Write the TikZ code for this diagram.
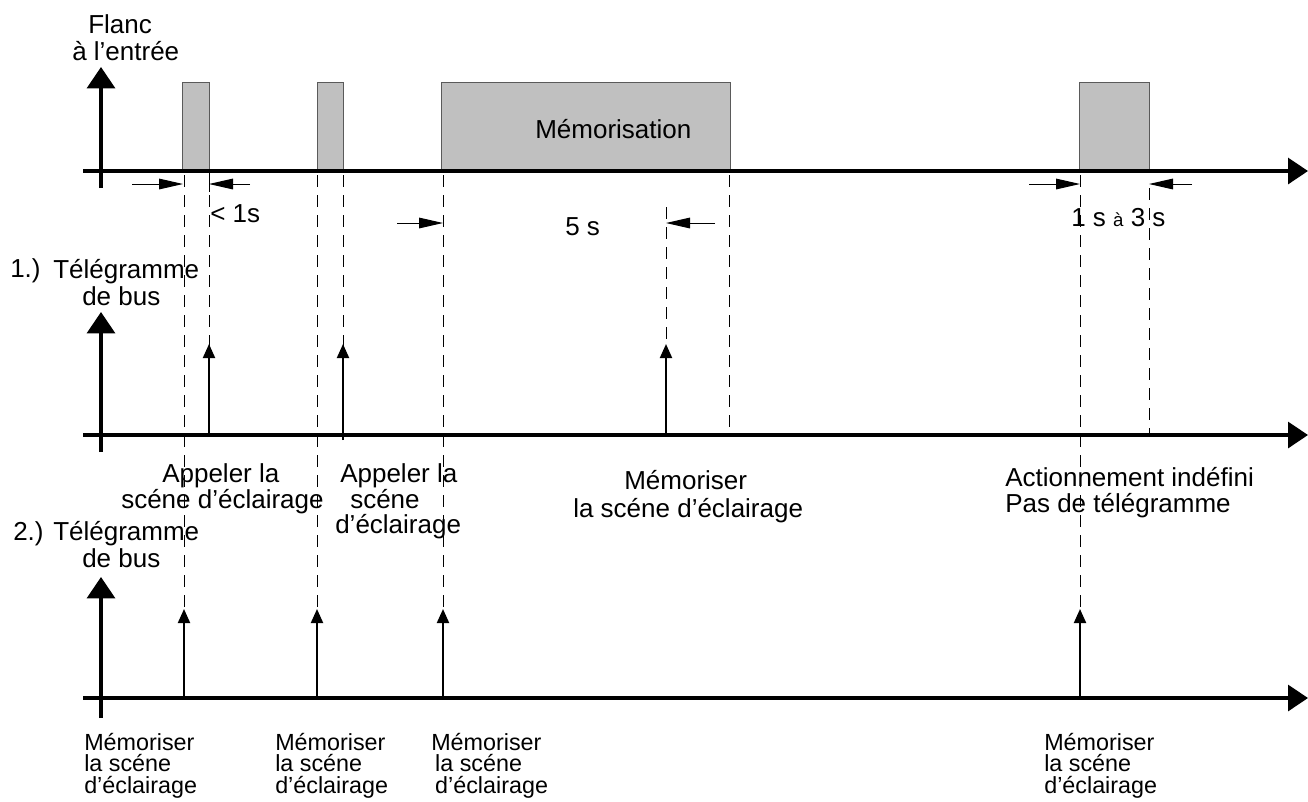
\documentclass[tikz,border=0pt]{standalone}
\usepackage{fontspec}
\setmainfont{Liberation Sans}
\usetikzlibrary{arrows.meta}
\definecolor{pulsegray}{RGB}{192,192,192}
\definecolor{edgegray}{RGB}{90,90,90}

\begin{document}
\begin{tikzpicture}[x=0.75pt,y=0.75pt,yscale=-1,xscale=1,
  axis/.style={line width=2.4pt,-{Triangle[length=15pt,width=19.5pt]}},
  yaxis/.style={line width=2.4pt,-{Triangle[length=16pt,width=21pt]}},
  pulse/.style={fill=pulsegray,draw=edgegray,line width=0.6pt},
  guide/.style={line width=0.75pt,dash pattern=on 9pt off 6pt},
  dimarrow/.style={line width=0.75pt,-{Triangle[length=18pt,width=8pt]}},
  telegram/.style={line width=1.5pt,-{Triangle[length=10.5pt,width=9pt]}},
  lbl/.style={anchor=base west,inner sep=0pt,font=\fontsize{19.5}{21}\selectfont},
  sublbl/.style={anchor=north west,inner sep=0pt,align=left,font=\fontsize{17.5}{16}\selectfont}]
\useasboundingbox (0,0) rectangle (1308,801);

%Pulses at the input
\draw [pulse] (182,82) rectangle (209,171);
\draw [pulse] (317,82) rectangle (343,171);
\draw [pulse] (441,82) rectangle (730,171);
\draw [pulse] (1079,82) rectangle (1149,171);

%Dashed guide lines
\draw [guide] (184,175) -- (184,698);
\draw [guide] (209,175) -- (209,435);
\draw [guide] (317,175) -- (317,698);
\draw [guide] (343,175) -- (343,435);
\draw [guide] (443,175) -- (443,698);
\draw [guide] (729,175) -- (729,435);
\draw [guide] (666,207) -- (666,435);
\draw [guide] (1080,175) -- (1080,698);
\draw [guide] (1149,188) -- (1149,435);

%Axes
\draw [axis] (83,171) -- (1308,171);
\draw [yaxis] (101,188) -- (101,67);
\draw [axis] (83,435) -- (1308,435);
\draw [yaxis] (101,452) -- (101,312);
\draw [axis] (83,698) -- (1308,698);
\draw [yaxis] (101,718) -- (101,577);

%Dimension arrows
\draw [dimarrow] (132,184) -- (183,184);
\draw [dimarrow] (250,184) -- (209,184);
\draw [line width=0.75pt] (209,171) -- (209,192);
\draw [dimarrow] (397,223) -- (443,223);
\draw [dimarrow] (715,223) -- (666,223);
\draw [dimarrow] (1029,184) -- (1080,184);
\draw [dimarrow] (1192,184) -- (1149,184);

%Bus telegrams 1.)
\draw [telegram] (209,435) -- (209,344);
\draw [telegram] (343,440) -- (343,344);
\draw [telegram] (666,435) -- (666,344);

%Bus telegrams 2.)
\draw [telegram] (184,698) -- (184,609);
\draw [telegram] (317,698) -- (317,609);
\draw [telegram] (443,698) -- (443,609);
\draw [telegram] (1080,698) -- (1080,609);

% Text Node
\node (flanc) [lbl] at (88,33) {Flanc};
\node (entree) [lbl] at (72,60) {à l’entrée};
\node (memo) [lbl] at (535,138) {Mémorisation};
\node (moins) [lbl] at (210,222) {< 1s};
\node (cinq) [lbl] at (565,235) {5 s};
\node (uatrois) [lbl] at (1071,226) {1 s {\fontsize{14}{15}\selectfont à} 3 s};

% Text Node
\node (num1) [lbl] at (10,277) {1.)};
\node (tel1) [lbl] at (53,278) {Télégramme};
\node (bus1) [lbl] at (82,305) {de bus};
\node (app1a) [lbl] at (162,482) {Appeler la};
\node (app1b) [lbl] at (121,508) {scéne d’éclairage};
\node (app2a) [lbl] at (340,482) {Appeler la};
\node (app2b) [lbl] at (350,508) {scéne};
\node (app2c) [lbl] at (335,533) {d’éclairage};
\node (mem1a) [lbl] at (624,489) {Mémoriser};
\node (mem1b) [lbl] at (573,517) {la scéne d’éclairage};
\node (act1) [lbl] at (1005,486) {Actionnement indéfini};
\node (pas1) [lbl] at (1005,512) {Pas de télégramme};

% Text Node
\node (num2) [lbl] at (13,540) {2.)};
\node (tel2) [lbl] at (53,540) {Télégramme};
\node (bus2) [lbl] at (82,567) {de bus};

% Text Node
\node (memA) [sublbl] at (84,733) {Mémoriser\\la scéne\\d’éclairage};
\node (memB) [sublbl] at (275,733) {Mémoriser\\la scéne\\d’éclairage};
\node (memC) [sublbl] at (431,733) {Mémoriser\\\,la scéne\\\,d’éclairage};
\node (memD) [sublbl] at (1044,733) {Mémoriser\\la scéne\\d’éclairage};

\end{tikzpicture}
\end{document}
